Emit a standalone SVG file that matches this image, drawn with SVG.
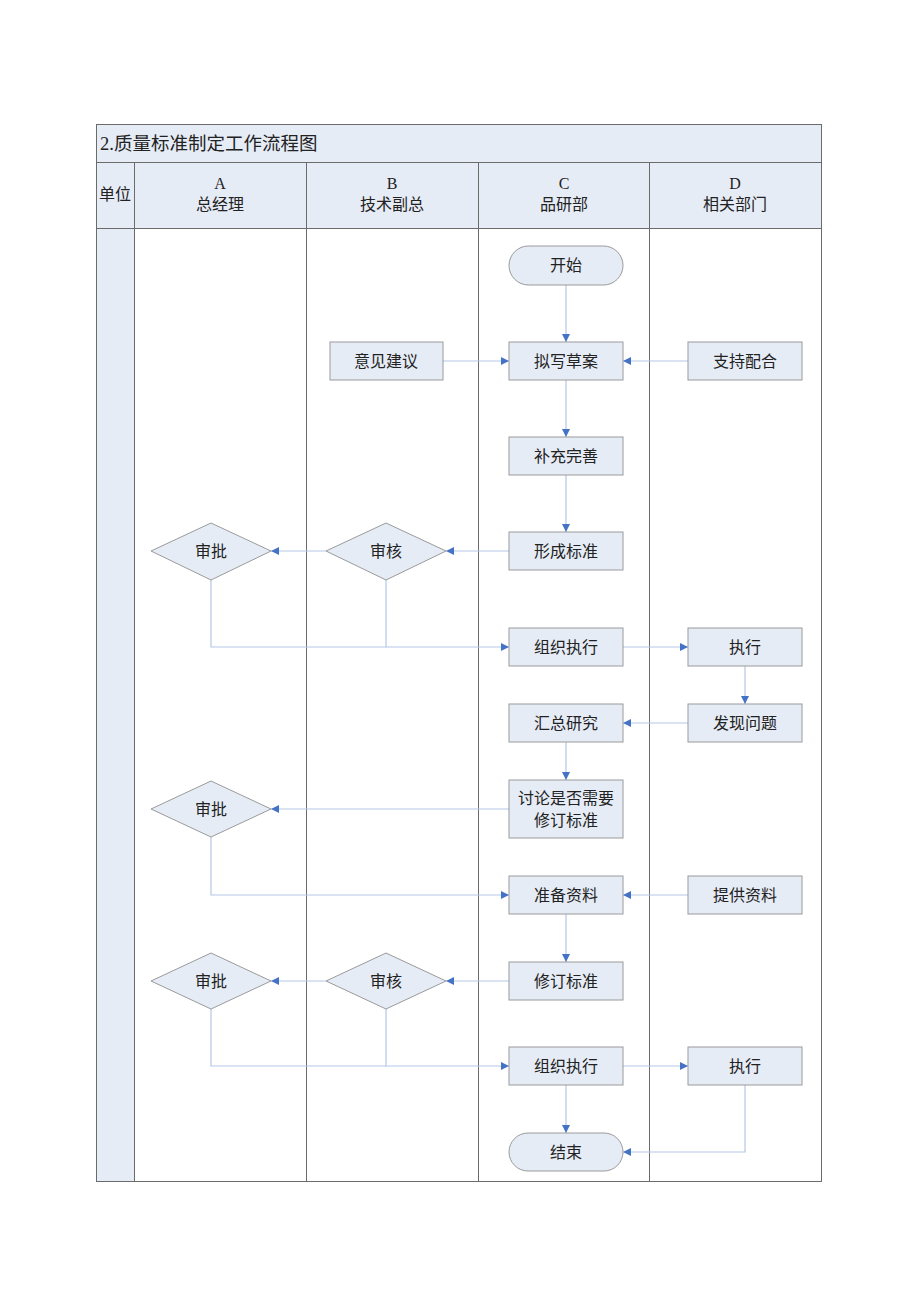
<svg xmlns="http://www.w3.org/2000/svg" width="920" height="1302" viewBox="0 0 920 1302">
<style>
.frame{fill:none;stroke:#6b6b6b;stroke-width:1}
.band{fill:#e6ecf6}
.node{fill:#e6ecf6;stroke:#9a9a9a;stroke-width:1}
.t{font-family:"Liberation Serif","Noto Sans CJK SC",serif;font-size:16px;fill:#222;text-anchor:middle}
.title{font-family:"Liberation Serif","Noto Sans CJK SC",serif;font-size:18.5px;fill:#222}
.c{fill:none;stroke:#b4c7e7;stroke-width:1.2}
.ca{fill:none;stroke:#b4c7e7;stroke-width:1.2;marker-end:url(#ah)}
</style>
<defs>
<marker id="ah" viewBox="0 0 10 10" refX="10" refY="5" markerWidth="8" markerHeight="8" markerUnits="userSpaceOnUse" orient="auto">
<path d="M0,0 L10,5 L0,10 z" fill="#4472c4"/>
</marker>
</defs>
<rect width="920" height="1302" fill="#fff"/>
<g id="table">
<rect class="band" x="96" y="124" width="725" height="38"/>
<rect class="band" x="96" y="162" width="725" height="66"/>
<rect class="band" x="96" y="228" width="38" height="953"/>
<rect class="frame" x="96.5" y="124.5" width="725" height="1057"/>
<line class="frame" x1="96" y1="162.5" x2="821" y2="162.5"/>
<line class="frame" x1="96" y1="228.5" x2="821" y2="228.5"/>
<line class="frame" x1="134.5" y1="162" x2="134.5" y2="1181"/>
<line class="frame" x1="306.5" y1="162" x2="306.5" y2="1181"/>
<line class="frame" x1="478.5" y1="162" x2="478.5" y2="1181"/>
<line class="frame" x1="649.5" y1="162" x2="649.5" y2="1181"/>
<text class="title" x="100" y="150">2.质量标准制定工作流程图</text>
<text class="t" x="115" y="200">单位</text>
<text class="t" x="220" y="189">A</text>
<text class="t" x="220" y="210">总经理</text>
<text class="t" x="392" y="189">B</text>
<text class="t" x="392" y="210">技术副总</text>
<text class="t" x="564" y="189">C</text>
<text class="t" x="564" y="210">品研部</text>
<text class="t" x="735" y="189">D</text>
<text class="t" x="735" y="210">相关部门</text>
</g>
<g id="connectors">
<path class="ca" d="M566,285 V342"/>
<path class="ca" d="M443,361 H509"/>
<path class="ca" d="M688,361 H623"/>
<path class="ca" d="M566,380 V437"/>
<path class="ca" d="M566,475 V532"/>
<path class="ca" d="M509,551 H446"/>
<path class="ca" d="M326,551 H271"/>
<path class="c" d="M211,580 V647 H386"/>
<path class="ca" d="M386,580 V647 H509"/>
<path class="ca" d="M623,647 H688"/>
<path class="ca" d="M745,666 V704"/>
<path class="ca" d="M688,723 H623"/>
<path class="ca" d="M566,742 V780"/>
<path class="ca" d="M509,809 H271"/>
<path class="ca" d="M211,837 V895 H509"/>
<path class="ca" d="M688,895 H623"/>
<path class="ca" d="M566,914 V962"/>
<path class="ca" d="M509,981 H446"/>
<path class="ca" d="M326,981 H271"/>
<path class="c" d="M211,1009 V1066 H386"/>
<path class="ca" d="M386,1009 V1066 H509"/>
<path class="ca" d="M623,1066 H688"/>
<path class="ca" d="M566,1085 V1133"/>
<path class="ca" d="M745,1085 V1152 H623"/>
</g>
<g id="n_start"><rect class="node" x="509" y="246" width="114" height="39" rx="19.5"/><text class="t" x="566" y="271">开始</text></g>
<g id="n_draft"><rect class="node" x="509" y="342" width="114" height="38"/><text class="t" x="566" y="367">拟写草案</text></g>
<g id="n_opinion"><rect class="node" x="330" y="342" width="113" height="38"/><text class="t" x="386" y="367">意见建议</text></g>
<g id="n_support"><rect class="node" x="688" y="342" width="114" height="38"/><text class="t" x="745" y="367">支持配合</text></g>
<g id="n_supplement"><rect class="node" x="509" y="437" width="114" height="38"/><text class="t" x="566" y="462">补充完善</text></g>
<g id="n_form"><rect class="node" x="509" y="532" width="114" height="38"/><text class="t" x="566" y="557">形成标准</text></g>
<g id="n_approve1"><polygon class="node" points="151,551 211,523 271,551 211,580"/><text class="t" x="211" y="557">审批</text></g>
<g id="n_review1"><polygon class="node" points="326,551 386,523 446,551 386,580"/><text class="t" x="386" y="557">审核</text></g>
<g id="n_org1"><rect class="node" x="509" y="628" width="114" height="38"/><text class="t" x="566" y="653">组织执行</text></g>
<g id="n_exec1"><rect class="node" x="688" y="628" width="114" height="38"/><text class="t" x="745" y="653">执行</text></g>
<g id="n_find"><rect class="node" x="688" y="704" width="114" height="38"/><text class="t" x="745" y="729">发现问题</text></g>
<g id="n_summary"><rect class="node" x="509" y="704" width="114" height="38"/><text class="t" x="566" y="729">汇总研究</text></g>
<g id="n_discuss"><rect class="node" x="509" y="780" width="114" height="58"/><text class="t" x="566" y="804">讨论是否需要</text><text class="t" x="566" y="826">修订标准</text></g>
<g id="n_approve2"><polygon class="node" points="151,809 211,781 271,809 211,837"/><text class="t" x="211" y="815">审批</text></g>
<g id="n_prepare"><rect class="node" x="509" y="876" width="114" height="38"/><text class="t" x="566" y="901">准备资料</text></g>
<g id="n_provide"><rect class="node" x="688" y="876" width="114" height="38"/><text class="t" x="745" y="901">提供资料</text></g>
<g id="n_revise"><rect class="node" x="509" y="962" width="114" height="38"/><text class="t" x="566" y="987">修订标准</text></g>
<g id="n_approve3"><polygon class="node" points="151,981 211,953 271,981 211,1009"/><text class="t" x="211" y="987">审批</text></g>
<g id="n_review3"><polygon class="node" points="326,981 386,953 446,981 386,1009"/><text class="t" x="386" y="987">审核</text></g>
<g id="n_org2"><rect class="node" x="509" y="1047" width="114" height="38"/><text class="t" x="566" y="1072">组织执行</text></g>
<g id="n_exec2"><rect class="node" x="688" y="1047" width="114" height="38"/><text class="t" x="745" y="1072">执行</text></g>
<g id="n_end"><rect class="node" x="509" y="1133" width="114" height="38" rx="19"/><text class="t" x="566" y="1158">结束</text></g>
</svg>
